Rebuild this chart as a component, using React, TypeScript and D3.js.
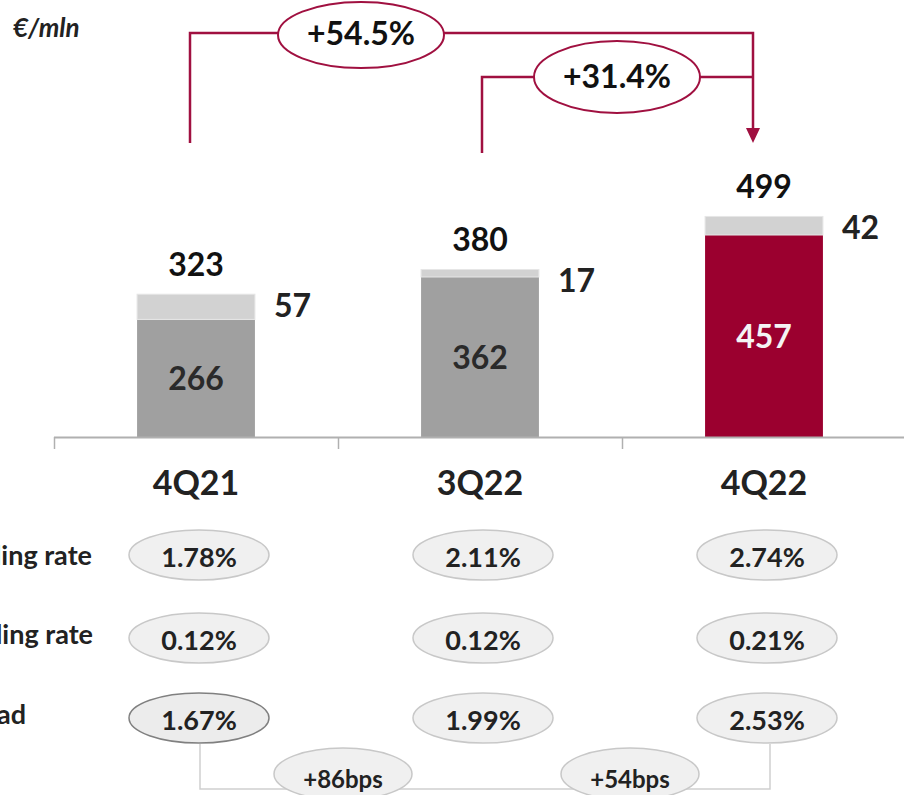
import React from "react";
import * as d3 from "d3";

const categories = ["4Q21", "3Q22", "4Q22"];
const baseValues = [266, 362, 457];
const extraValues = [57, 17, 42];
const totalValues = [323, 380, 499];
const rowLabels = ["Lending rate", "Funding rate", "Spread"];
const lendingRate = [1.78, 2.11, 2.74];
const fundingRate = [0.12, 0.12, 0.21];
const spreadRate = [1.67, 1.99, 2.53];
const growthLabels = ["+54.5%", "+31.4%"];
const bpsLabels = ["+86bps", "+54bps"];

const W = 904;
const H = 795;
const RED = "#9b002f";
const LINE_RED = "#a01040";
const FONT = "Lato, 'Open Sans', sans-serif";

export default function App() {
  const x = d3.scaleBand<string>().domain(categories).range([54, 906]).padding(0);
  const bw = x.bandwidth();
  const barW = bw * 0.415;
  const cx = (c: string) => (x(c) as number) + bw / 2;
  const y = d3.scaleLinear().domain([0, 1000]).range([437, 437 - 442]);

  const rows = [lendingRate, fundingRate, spreadRate];
  const rowY = [555, 638, 718];
  const rowLabelY = [565, 644, 724];
  const rowLabelEnd = [92, 93, 26];
  const fmt = (v: number) => d3.format(".2f")(v) + "%";

  const c0 = cx(categories[0]);
  const c1 = cx(categories[1]);
  const c2 = cx(categories[2]);
  const arrowX = c2 - 11;

  return (
    <svg
      width={W}
      height={H}
      style={{ position: "absolute", left: 0, top: 0, fontFamily: FONT }}
    >
      <rect width={W} height={H} fill="#fff" />
      <text x={13} y={37} fontSize={26} fontWeight={700} fontStyle="italic" fill="#222">
        €/mln
      </text>

      {/* growth annotations */}
      <g fill="none" stroke={LINE_RED} strokeWidth={2.5}>
        <polyline points={`${c0 - 6},143 ${c0 - 6},33 ${arrowX},33 ${arrowX},130`} />
        <polyline points={`${c1 + 2},153 ${c1 + 2},77 ${arrowX},77`} />
      </g>
      <path
        d={`M${arrowX - 7},128 L${arrowX + 7},128 L${arrowX},143 Z`}
        fill={LINE_RED}
      />
      <ellipse cx={361} cy={35} rx={83} ry={33} fill="#fff" stroke={LINE_RED} strokeWidth={2} />
      <text x={361} y={45} textAnchor="middle" fontSize={32} fontWeight={700} fill="#111">
        {growthLabels[0]}
      </text>
      <ellipse cx={617} cy={77} rx={83} ry={36} fill="#fff" stroke={LINE_RED} strokeWidth={2} />
      <text x={617} y={88} textAnchor="middle" fontSize={32} fontWeight={700} fill="#111">
        {growthLabels[1]}
      </text>

      {/* bars */}
      {categories.map((c, i) => {
        const bx = (x(c) as number) + (bw - barW) / 2;
        const yBase = y(baseValues[i]);
        const yTop = y(baseValues[i] + extraValues[i]);
        const isLast = i === categories.length - 1;
        return (
          <g key={c}>
            <rect x={bx} y={yBase} width={barW} height={y(0) - yBase} fill={isLast ? RED : "#a0a0a0"} />
            <rect x={bx} y={yTop} width={barW} height={yBase - yTop} fill="#d2d2d2" stroke="#e6e6e6" strokeWidth={1} />
            <text x={cx(c)} y={yTop - 18} textAnchor="middle" fontSize={32} fontWeight={700} fill="#111">
              {totalValues[i]}
            </text>
            <text x={bx + barW + 19} y={yTop + 23} fontSize={32} fontWeight={700} fill="#222">
              {extraValues[i]}
            </text>
            <text
              x={cx(c)}
              y={(yBase + y(0)) / 2 + 12}
              textAnchor="middle"
              fontSize={32}
              fontWeight={700}
              fill={isLast ? "#f4f4f4" : "#2a2a2a"}
            >
              {baseValues[i]}
            </text>
            <text x={cx(c)} y={495} textAnchor="middle" fontSize={34} fontWeight={700} fill="#222">
              {c}
            </text>
          </g>
        );
      })}

      {/* axis */}
      <line x1={54} x2={W} y1={437.5} y2={437.5} stroke="#b0b0b0" strokeWidth={2} />
      {categories.map((c) => (
        <line key={c} x1={(x(c) as number) + 0.5} x2={(x(c) as number) + 0.5} y1={437} y2={449} stroke="#b0b0b0" strokeWidth={1.5} />
      ))}

      {/* bottom bps connector */}
      <polyline
        points={`${c0 + 4},744 ${c0 + 4},789 ${c2 + 6},789 ${c2 + 6},744`}
        fill="none"
        stroke="#cfcfcf"
        strokeWidth={1.5}
      />

      {/* rate rows */}
      {rows.map((vals, r) => (
        <g key={r}>
          <text x={rowLabelEnd[r]} y={rowLabelY[r]} textAnchor="end" fontSize={27} fontWeight={700} fill="#222">
            {rowLabels[r]}
          </text>
          {vals.map((v, i) => {
            const ex = cx(categories[i]) + 3;
            const strong = r === 2 && i === 0;
            return (
              <g key={i}>
                <ellipse
                  cx={ex}
                  cy={rowY[r]}
                  rx={70}
                  ry={25}
                  fill={strong ? "#ececec" : "#f0f0f0"}
                  stroke={strong ? "#808080" : "#c8c8c8"}
                  strokeWidth={1.5}
                />
                <text x={ex} y={rowY[r] + 12} textAnchor="middle" fontSize={27} fontWeight={700} fill="#222">
                  {fmt(v)}
                </text>
              </g>
            );
          })}
        </g>
      ))}

      {bpsLabels.map((t, i) => {
        const mx = ((x(categories[i + 1]) as number)) + (i === 0 ? 5 : 8);
        return (
          <g key={t}>
            <ellipse cx={mx} cy={774} rx={69} ry={26} fill="#f0f0f0" stroke="#c8c8c8" strokeWidth={1.5} />
            <text x={mx} y={788} textAnchor="middle" fontSize={24} fontWeight={700} fill="#222">
              {t}
            </text>
          </g>
        );
      })}
    </svg>
  );
}
